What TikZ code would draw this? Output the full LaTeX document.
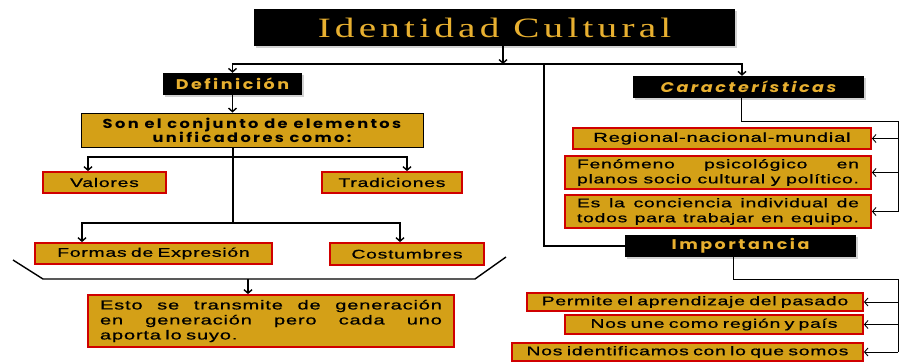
\documentclass[tikz,border=0pt]{standalone}
\usepackage{fontspec}
\usetikzlibrary{shadows,arrows.meta}
\definecolor{gold}{RGB}{212,160,23}
\definecolor{goldtext}{RGB}{232,176,48}
\definecolor{boxred}{RGB}{208,0,0}
\newfontfamily\titlefont[FakeStretch=1.4,LetterSpace=15]{Liberation Serif}
\newfontfamily\headfont[FakeStretch=1.25,LetterSpace=18]{Poppins}
\newfontfamily\boxfont[FakeStretch=1.55,LetterSpace=6,WordSpace=0.7,FakeBold=0.8]{Liberation Sans}

\begin{document}
\begin{tikzpicture}[x=1pt,y=-1pt,>={Straight Barb[length=3.5pt,width=8pt]}]
\tikzstyle{blackbox}=[fill=black,text=goldtext,inner sep=0pt,drop shadow={shadow xshift=1.5pt,shadow yshift=-1.5pt,fill=black!35}]
\tikzstyle{goldbox}=[fill=gold,draw=boxred,line width=1.8pt,inner sep=0pt,font=\boxfont\fontsize{12.5}{15}\selectfont]
\tikzstyle{conn}=[line width=1.4pt]
\tikzstyle{thin}=[line width=0.9pt]
\useasboundingbox (0,0) rectangle (899,362);

% cabecera
\node[blackbox,minimum width=481pt,minimum height=37pt,font=\titlefont\fontsize{28}{30}\selectfont] (titulo) at (494.5,27.5) {Identidad Cultural};
\node[blackbox,minimum width=139pt,minimum height=22pt,font=\headfont\bfseries\fontsize{14}{16}\selectfont] (defin) at (232.5,84) {Definición};
\node[blackbox,minimum width=231pt,minimum height=22pt,font=\headfont\bfseries\itshape\fontsize{14}{16}\selectfont] (caract) at (748.5,87) {Características};
\node[blackbox,minimum width=231pt,minimum height=22pt,font=\headfont\bfseries\fontsize{14}{16}\selectfont] (import) at (740.5,246) {Importancia};

% definicion
\node[goldbox,draw=black,line width=1pt,minimum width=342pt,minimum height=34pt,align=center,font=\headfont\bfseries\fontsize{13}{14}\selectfont] (son) at (252,130) {Son el conjunto de elementos\\ unificadores como:};
\node[goldbox,minimum width=123pt,minimum height=21pt] (valores) at (104.5,182.5) {Valores};
\node[goldbox,minimum width=140pt,minimum height=21pt] (tradic) at (392,182.5) {Tradiciones};
\node[goldbox,minimum width=237pt,minimum height=21pt] (formas) at (153.5,253.5) {Formas de Expresión};
\node[goldbox,minimum width=154pt,minimum height=22pt] (costum) at (407,254) {Costumbres};
\node[goldbox,minimum height=52pt,text width=342pt,align=left,inner xsep=12pt,font=\boxfont\fontsize{13}{15}\selectfont] (esto) at (271,321) {Esto\hfill se\hfill transmite\hfill de\hfill generación\\ en\hfill generación\hfill pero\hfill cada\hfill uno\\ aporta lo suyo.};

% caracteristicas
\node[goldbox,minimum width=298pt,minimum height=21pt,font=\boxfont\fontsize{13}{15}\selectfont] (regional) at (722,138.5) {Regional-nacional-mundial};
\node[goldbox,minimum height=33pt,text width=282pt,align=left,inner xsep=12pt] (fenom) at (718,172.5) {Fenómeno\hfill psicológico\hfill en\\ planos\hfill socio\hfill cultural\hfill y\hfill político.};
\node[goldbox,minimum height=33pt,text width=282pt,align=left,inner xsep=12pt] (esla) at (718,211.5) {Es\hfill la\hfill conciencia\hfill individual\hfill de\\ todos\hfill para\hfill trabajar\hfill en\hfill equipo.};

% importancia
\node[goldbox,minimum width=336pt,minimum height=18pt] (permite) at (695,302) {Permite el aprendizaje del pasado};
\node[goldbox,minimum width=298pt,minimum height=19pt] (nosune) at (714,324.5) {Nos une como región y país};
\node[goldbox,minimum width=351pt,minimum height=18pt] (nosident) at (687.5,352) {Nos identificamos con lo que somos};

% conectores
\coordinate (tbar) at (503,64);
\coordinate (imp) at (544,64);
\draw[conn,->] (titulo.south -| tbar) -- (tbar);
\draw[conn,<->] (defin.north) |- (tbar) -| ([xshift=-6.5pt]caract.north);
\draw[conn] (imp) |- (import.west);
\draw[conn,->] (defin.south) -- (defin.south |- son.north);

\coordinate (sA) at (233,157);
\coordinate (sB) at (233,223);
\coordinate (vA) at (88,157);
\coordinate (tA) at (407,157);
\coordinate (fA) at (82,223);
\coordinate (cA) at (400,223);
\draw[conn] (son.south -| sB) -- (sB);
\draw[conn,<->] (valores.north -| vA) |- (sA) -| (tradic.north -| tA);
\draw[conn,<->] (formas.north -| fA) |- (sB) -| (costum.north -| cA);

\coordinate (brM) at (248,279);
\draw[conn] (13,260) -- (43,279) -- (475,279) -- (506,257);
\draw[conn,->] (brM) -- (brM |- esto.north);

\coordinate (cR) at (898,121);
\draw[thin] ([xshift=-7.5pt]caract.south) |- (cR) -- (cR |- esla.east);
\foreach \n in {regional,fenom,esla}
  \draw[thin,->] (cR |- \n.east) -- (\n.east);

\coordinate (iR) at (898,279);
\draw[thin] ([xshift=-7.5pt]import.south) |- (iR) -- (iR |- nosident.east);
\foreach \n in {permite,nosune,nosident}
  \draw[thin,->] (iR |- \n.east) -- (\n.east);
\end{tikzpicture}
\end{document}
